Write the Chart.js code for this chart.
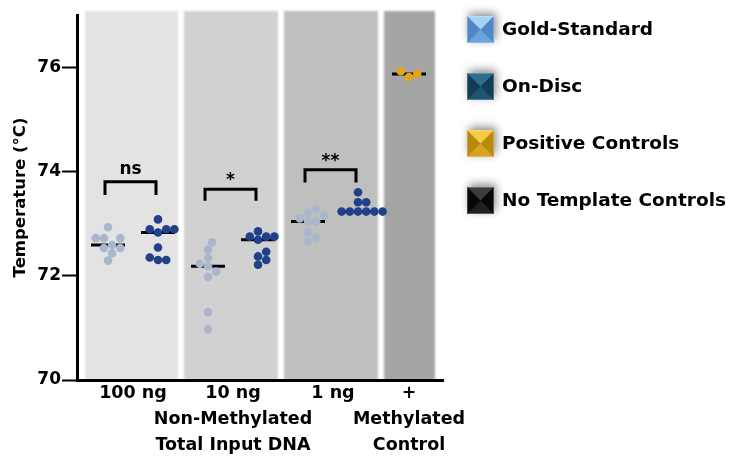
<!DOCTYPE html>
<html>
<head>
<meta charset="utf-8">
<script src="https://cdn.jsdelivr.net/npm/chart.js@4.4.1/dist/chart.umd.min.js"></script>
<style>
html,body{margin:0;padding:0;background:#fff}
#wrap{width:737px;height:456px}
</style>
</head>
<body>
<div id="wrap"><canvas id="meltChart" width="737" height="456"></canvas></div>
<script>

// melt temperatures (°C)
const categories=["100 ng","10 ng","1 ng","+"]
const tickLabels=[["100 ng"],["10 ng","Non-Methylated","Total Input DNA"],["1 ng"],["+","Methylated","Control"]]

const goldStd100=[72.93,72.72,72.72,72.72,72.59,72.53,72.53,72.43,72.29]
const onDisc100=[73.08,72.89,72.89,72.89,72.83,72.54,72.35,72.30,72.30]
const goldStd10=[72.64,72.50,72.34,72.23,72.18,72.08,71.98,71.30,70.97]
const onDisc10=[72.85,72.75,72.75,72.75,72.69,72.46,72.37,72.30,72.21]
const goldStd1=[73.28,73.20,73.15,73.10,73.04,73.04,72.83,72.72,72.65]
const onDisc1=[73.60,73.41,73.41,73.23,73.23,73.23,73.23,73.23,73.23]
const positiveCtrl=[75.81,75.92,75.87]

// significance brackets (bar level, leg end, label)
const sigLabels=["ns","*","**"]
const sigBarY=[73.80,73.66,74.03]
const sigLegY=[73.55,73.44,73.79]

const legendLabels=["Gold-Standard","On-Disc","Positive Controls","No Template Controls"]

// layout
const groupX=[0.52,1.52,2.52,3.28]
const bands=[[0.04,0.97,"#e3e3e3"],[1.03,1.97,"#d1d1d1"],[2.03,2.97,"#bfbfbf"],[3.03,3.54,"#a5a5a5"]]
const legendIcons=[
{top:"#a6d3f6",side:"#4f88c4",bottom:"#6aa4da"},
{top:"#2e6d8f",side:"#143c55",bottom:"#1f5573"},
{top:"#f6cb45",side:"#b8890f",bottom:"#d6a322"},
{top:"#3c3c3c",side:"#070707",bottom:"#1f1f1f"}
]
const FONT="'DejaVu Sans'"
const GOLD_COL="#aab6cc"
const DISC_COL="#21408c"
const POS_COL="#e8a317"

const goldGroups=[goldStd100,goldStd10,goldStd1]
const discGroups=[onDisc100,onDisc10,onDisc1]

function median(a){
const s=[...a].sort((p,q)=>p-q)
const m=Math.floor(s.length/2)
return s.length%2?s[m]:(s[m-1]+s[m])/2
}

// each series: values + where its column sits
const series=[]
goldGroups.forEach((g,i)=>series.push({vals:g,cx:groupX[i]-0.25,color:GOLD_COL,ds:0}))
discGroups.forEach((g,i)=>series.push({vals:g,cx:groupX[i]+0.25,color:DISC_COL,ds:1}))
series.push({vals:positiveCtrl,cx:groupX[3],color:POS_COL,ds:2})

function pointsFor(dsIndex){
const out=[]
series.filter(s=>s.ds===dsIndex).forEach(s=>{
s.vals.forEach(v=>out.push({x:s.cx,y:v}))
})
return out
}

const dotDatasets=[
{label:legendLabels[0],data:pointsFor(0),backgroundColor:GOLD_COL},
{label:legendLabels[1],data:pointsFor(1),backgroundColor:DISC_COL},
{label:legendLabels[2],data:pointsFor(2),backgroundColor:POS_COL},
{label:legendLabels[3],data:[],backgroundColor:"#000"}
].map(d=>Object.assign(d,{pointRadius:4.3,pointHoverRadius:4.3,borderWidth:0,order:0}))

const medianDatasets=series.map(s=>{
const m=median(s.vals)
return {
type:"line",
data:[{x:s.cx-0.17,y:m},{x:s.cx+0.17,y:m}],
borderColor:"#000",
borderWidth:3,
pointRadius:0,
order:1
}
})

// spread equal-ish values sideways (simple beeswarm)
function swarm(chart){
const xs=chart.scales.x,ys=chart.scales.y
const GAP=8.2,STEP=4.1
const perDs=[[],[],[]]
series.forEach(s=>{
const base=xs.getPixelForValue(s.cx)
const placed=[]
const res=new Array(s.vals.length)
const order=s.vals.map((v,i)=>i).sort((a,b)=>s.vals[a]-s.vals[b])
order.forEach(i=>{
const py=ys.getPixelForValue(s.vals[i])
let k=0,dx=0
while(true){
dx=(k%2?1:-1)*Math.ceil(k/2)*STEP
if(placed.every(p=>Math.hypot(p.x-dx,p.y-py)>=GAP)) break
k++
}
placed.push({x:dx,y:py})
res[i]={x:xs.getValueForPixel(base+dx),y:s.vals[i]}
})
perDs[s.ds].push(...res)
})
perDs.forEach((pts,i)=>{chart.data.datasets[i].data=pts})
}

const bandsPlugin={
id:"bands",
beforeDraw(chart){
const {ctx,chartArea,scales:{x}}=chart
ctx.save()
ctx.filter="blur(1px)"
bands.forEach(b=>{
const l=x.getPixelForValue(b[0]),r=x.getPixelForValue(b[1])
ctx.fillStyle=b[2]
ctx.fillRect(l,chartArea.top-4,r-l,chartArea.bottom-chartArea.top+4)
})
ctx.restore()
}
}

const sigPlugin={
id:"sig",
afterDatasetsDraw(chart){
const {ctx,scales:{x,y}}=chart
ctx.save()
ctx.strokeStyle="#000"
ctx.lineWidth=3
ctx.lineJoin="miter"
ctx.fillStyle="#000"
ctx.font="bold 17px "+FONT
ctx.textAlign="center"
sigLabels.forEach((lab,i)=>{
const l=x.getPixelForValue(groupX[i]-0.28),r=x.getPixelForValue(groupX[i]+0.23)
const top=y.getPixelForValue(sigBarY[i]),bot=y.getPixelForValue(sigLegY[i])
ctx.beginPath()
ctx.moveTo(l,bot)
ctx.lineTo(l,top)
ctx.lineTo(r,top)
ctx.lineTo(r,bot)
ctx.stroke()
const m=ctx.measureText(lab)
ctx.fillText(lab,(l+r)/2,top-8-m.actualBoundingBoxDescent)
})
ctx.restore()
}
}

function drawIcon(ctx,x,y,s,c){
ctx.save()
ctx.shadowColor="rgba(0,0,0,0.45)"
ctx.shadowBlur=9
ctx.shadowOffsetX=2
ctx.shadowOffsetY=-3
ctx.fillStyle=c.side
ctx.fillRect(x,y,s,s)
ctx.restore()
const cx=x+s/2,cy=y+s/2
ctx.fillStyle=c.top
ctx.beginPath();ctx.moveTo(x,y);ctx.lineTo(x+s,y);ctx.lineTo(cx,cy);ctx.closePath();ctx.fill()
ctx.fillStyle=c.bottom
ctx.beginPath();ctx.moveTo(x,y+s);ctx.lineTo(x+s,y+s);ctx.lineTo(cx,cy);ctx.closePath();ctx.fill()
ctx.strokeStyle="rgba(255,255,255,0.25)"
ctx.lineWidth=1
ctx.strokeRect(x+0.5,y+0.5,s-1,s-1)
}

const legendPlugin={
id:"bevelLegend",
afterDraw(chart){
const ctx=chart.ctx
const left=chart.chartArea.right+24
const size=27
ctx.save()
ctx.font="bold 18.5px "+FONT
ctx.textBaseline="middle"
ctx.fillStyle="#000"
legendLabels.forEach((lab,i)=>{
const cy=29.5+i*57
drawIcon(ctx,left,cy-size/2,size,legendIcons[i])
ctx.fillStyle="#000"
ctx.fillText(lab,left+size+8,cy+1)
})
ctx.restore()
}
}

const chart=new Chart(document.getElementById("meltChart"),{
type:"scatter",
data:{datasets:[...dotDatasets,...medianDatasets]},
options:{
responsive:false,
animation:false,
layout:{padding:{top:15,right:294,left:0,bottom:0}},
plugins:{legend:{display:false},tooltip:{enabled:false}},
scales:{
x:{
type:"linear",
min:-0.04,
max:3.62,
afterBuildTicks(s){s.ticks=groupX.map(v=>({value:v}))},
afterFit(s){s.height=76},
border:{display:true,color:"#000",width:3},
grid:{display:false,drawTicks:false,tickLength:0},
ticks:{
autoSkip:false,
maxRotation:0,
padding:0,
color:"#000",
font:{family:FONT,weight:"bold",size:17.5,lineHeight:1.5},
callback:(v,i)=>tickLabels[i]
}
},
y:{
min:70,
max:77,
afterBuildTicks(s){s.ticks=s.ticks.filter(t=>t.value%2===0)},
afterFit(s){s.width=77},
border:{color:"#000",width:3},
grid:{drawOnChartArea:false,tickLength:15,tickWidth:2,tickColor:"#000"},
ticks:{stepSize:2,padding:1,color:"#000",font:{family:FONT,weight:"bold",size:17}},
title:{display:true,text:"Temperature (°C)",color:"#000",padding:{top:11,bottom:0},font:{family:FONT,weight:"bold",size:16.5}}
}
}
},
plugins:[bandsPlugin,sigPlugin,legendPlugin]
})

swarm(chart)
chart.update()

</script>
</body>
</html>
